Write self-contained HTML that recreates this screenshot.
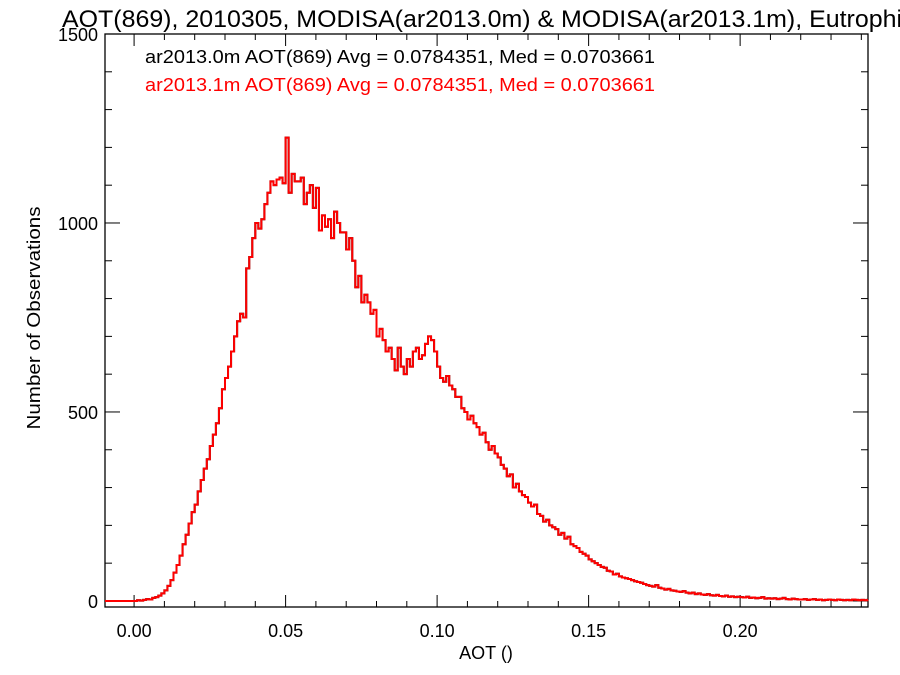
<!DOCTYPE html>
<html><head><meta charset="utf-8"><style>
body{margin:0;background:#fff;}
svg{display:block;font-family:"Liberation Sans",sans-serif;}
</style></head><body>
<svg id="chart" width="900" height="675">
<text x="62" y="27" font-size="24" textLength="840" lengthAdjust="spacingAndGlyphs" fill="#000">AOT(869), 2010305, MODISA(ar2013.0m) &amp; MODISA(ar2013.1m), Eutrophi</text>
<text x="145" y="63" font-size="18" textLength="510" lengthAdjust="spacingAndGlyphs" fill="#000">ar2013.0m AOT(869) Avg = 0.0784351, Med = 0.0703661</text>
<text x="145" y="91" font-size="18" textLength="510" lengthAdjust="spacingAndGlyphs" fill="#ff0000">ar2013.1m AOT(869) Avg = 0.0784351, Med = 0.0703661</text>
<text x="486" y="659" font-size="18" text-anchor="middle">AOT ()</text>
<text transform="translate(40,318) rotate(-90)" font-size="18" textLength="223" lengthAdjust="spacingAndGlyphs" text-anchor="middle">Number of Observations</text>
<g id="axes"></g>
<g id="series"></g>
</svg>
<script>
const binStart = 0.0;
const binWidth = 0.001;
const countsA = [
0,2,1,3,5,4,8,10,14,20,
28,40,55,75,95,120,150,175,205,235,
255,290,320,350,375,410,440,470,510,560,
590,620,660,700,740,760,750,880,910,960,
1000,985,1010,1050,1080,1110,1100,1115,1120,1105,
1226,1080,1130,1110,1110,1120,1050,1080,1100,1040,
1093,980,1020,990,1010,960,1030,1000,975,975,
930,960,900,830,860,790,810,790,760,770,
700,720,690,660,670,640,610,670,620,600,
640,620,660,670,640,650,680,700,690,660,
620,590,580,595,570,560,540,540,510,500,
480,490,470,460,440,445,420,400,410,390,
380,360,350,330,335,300,310,290,280,275,
260,250,255,230,225,210,215,200,195,190,
175,180,165,170,150,145,140,130,125,120,
110,105,100,95,90,88,80,78,70,72,
65,62,60,58,55,52,50,48,45,42,
40,38,42,35,33,30,32,28,27,25,
24,26,22,20,22,18,20,17,16,18,
15,14,16,13,12,14,11,12,10,11,
10,9,11,8,9,7,8,10,6,7,
6,7,5,6,8,5,4,6,5,4,
4,5,3,4,5,3,4,2,3,4,
3,2,4,3,2,3,2,4,3,2,
3,2,3];
const countsB = countsA.slice();
const xTickValues = [0.00,0.05,0.10,0.15,0.20];
const xTickLabels = ["0.00","0.05","0.10","0.15","0.20"];
const yTickValues = [0,500,1000,1500];
const yTickLabels = ["0","500","1000","1500"];

const L=105,R=868,T=34,B=607;
const xMin=-0.0096,xMax=0.2422,yMin=-16,yMax=1500;
const xs=v=>L+(v-xMin)/(xMax-xMin)*(R-L);
const ys=v=>B-(v-yMin)/(yMax-yMin)*(B-T);
const NS="http://www.w3.org/2000/svg";
const axes=document.getElementById('axes');
const series=document.getElementById('series');
function mk(tag,attrs,parent){const e=document.createElementNS(NS,tag);for(const k in attrs)e.setAttribute(k,attrs[k]);parent.appendChild(e);return e;}

const frame=mk('rect',{x:L,y:T,width:R-L,height:B-T,fill:'none',stroke:'#000','stroke-width':1.3},axes);



for(let v=0;v<=0.2401;v+=0.01){
  const major=Math.abs(v/0.05-Math.round(v/0.05))<1e-6;
  const len=major?12:6;const x=xs(v);
  const t1=mk('line',{x1:x,x2:x,y1:B,y2:B-len,stroke:'#000','stroke-width':1},axes);
  
  
  const t2=mk('line',{x1:x,x2:x,y1:T,y2:T+len,stroke:'#000','stroke-width':1},axes);
  
  
}
xTickValues.forEach((v,i)=>{
  const t=mk('text',{x:xs(v),y:B+30,'font-size':18,'text-anchor':'middle'},axes);
  t.textContent=xTickLabels[i];
  
  
});
for(let v=0;v<=1500;v+=100){
  const len=(v%500===0)?15:7;const y=ys(v);
  const t1=mk('line',{x1:L,x2:L+len,y1:y,y2:y,stroke:'#000','stroke-width':1},axes);
  
  
  const t2=mk('line',{x1:R,x2:R-len,y1:y,y2:y,stroke:'#000','stroke-width':1},axes);
  
  
}
yTickValues.forEach((v,i)=>{
  const t=mk('text',{x:L-7,y:ys(v)+7,'font-size':18,'text-anchor':'end'},axes);
  t.textContent=yTickLabels[i];
  
  
});

function stepPath(arr){
  let d='M'+L+','+ys(0)+' L'+xs(binStart)+','+ys(0);
  arr.forEach((c,i)=>{
    const x0=xs(binStart+i*binWidth),x1=Math.min(R,xs(binStart+(i+1)*binWidth));
    d+=' L'+x0+','+ys(c)+' L'+x1+','+ys(c);
  });
  return d;
}
const pA=mk('path',{d:stepPath(countsA),fill:'none',stroke:'#000','stroke-width':2},series);


const pB=mk('path',{d:stepPath(countsB),fill:'none',stroke:'#ff0000','stroke-width':2},series);


</script>
</body></html>
